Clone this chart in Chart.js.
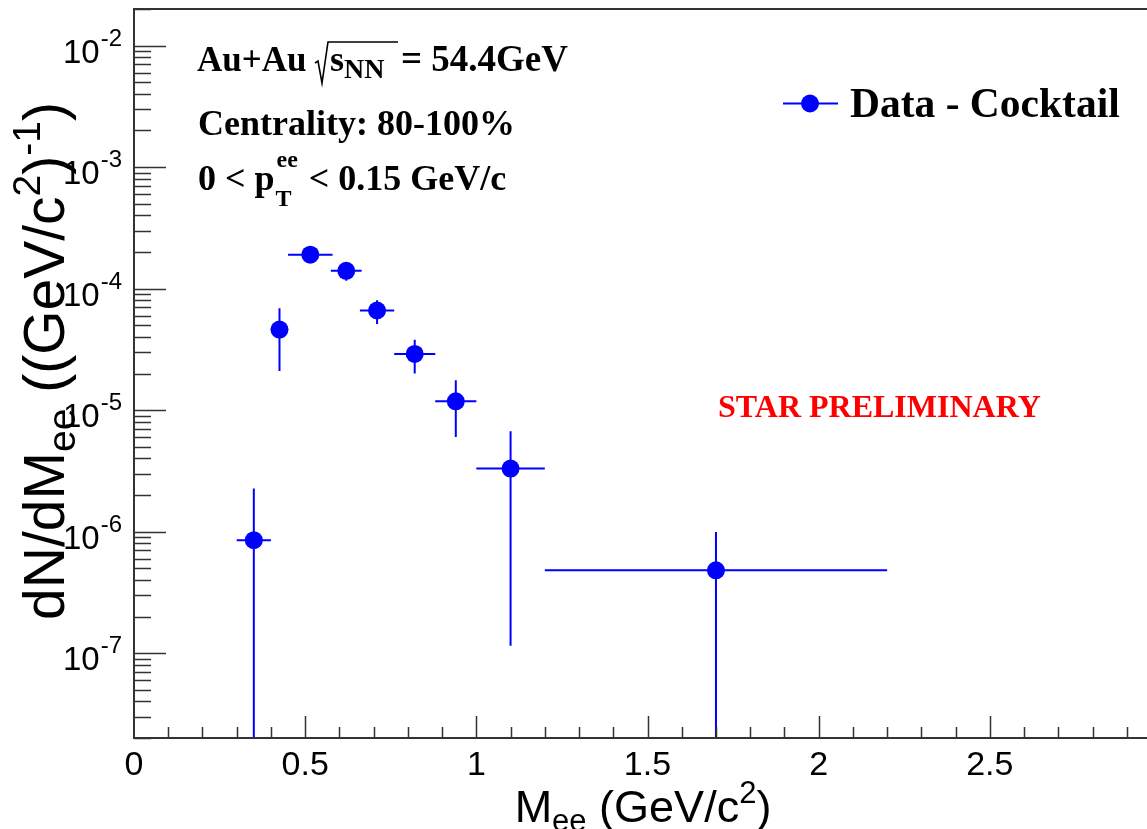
<!DOCTYPE html>
<html>
<head>
<meta charset="utf-8">
<script src="https://cdn.jsdelivr.net/npm/chart.js@4/dist/chart.umd.min.js"></script>
<style>
  html,body{margin:0;padding:0;background:#fff;overflow:hidden;}
  canvas{display:block;}
</style>
</head>
<body>
<canvas id="c" width="1170" height="829"></canvas>
<script>
// Data - Cocktail, Au+Au 54.4 GeV, 80-100%, low pT dielectron excess
const MASS     = [0.35, 0.425, 0.515, 0.62, 0.71, 0.82, 0.94, 1.10, 1.70];
const MASS_LO  = [0.30, 0.40, 0.45, 0.575, 0.66, 0.76, 0.88, 1.00, 1.20];
const MASS_HI  = [0.40, 0.45, 0.58, 0.665, 0.76, 0.88, 1.00, 1.20, 2.20];
const YIELD    = [8.5e-7, 4.6e-5, 1.9e-4, 1.4e-4, 6.6e-5, 2.9e-5, 1.18e-5, 3.3e-6, 4.8e-7];
const YIELD_LO = [1e-9, 2.1e-5, 1.75e-4, 1.16e-4, 5.1e-5, 2.0e-5, 6.0e-6, 1.15e-7, 1e-9];
const YIELD_HI = [2.26e-6, 6.9e-5, 2.05e-4, 1.62e-4, 8.0e-5, 3.8e-5, 1.76e-5, 6.7e-6, 9.9e-7];
const X_TICKS  = [0, 0.5, 1, 1.5, 2, 2.5];
const X_LABELS = ['0', '0.5', '1', '1.5', '2', '2.5'];
const Y_EXPS   = [-7, -6, -5, -4, -3, -2];

const BLUE = '#0000ff', FRAME = '#333333', RED = '#ff0000';
const SANS = "'Liberation Sans', Arial, sans-serif";
const SERIF = "'Liberation Serif', 'Times New Roman', serif";

// draw a row of text pieces (sub/superscripts via dy), returns total width
function runs(ctx, x, y, parts, measureOnly) {
  let cx = x;
  parts.forEach(p => {
    ctx.font = (p.bold ? 'bold ' : '') + p.size + 'px ' + (p.fam || SANS);
    if (!measureOnly) ctx.fillText(p.t, cx + (p.dx || 0), y + (p.dy || 0));
    cx += ctx.measureText(p.t).width + (p.dx || 0);
  });
  return cx - x;
}

const errorBars = {
  id: 'errorBars',
  beforeDatasetsDraw(chart) {
    const {ctx, chartArea: a, scales: {x, y}} = chart;
    ctx.save();
    ctx.beginPath(); ctx.rect(a.left, a.top, a.right - a.left, a.bottom - a.top); ctx.clip();
    ctx.strokeStyle = BLUE; ctx.lineWidth = 2;
    MASS.forEach((m, i) => {
      const px = x.getPixelForValue(m), py = y.getPixelForValue(YIELD[i]);
      ctx.beginPath();
      ctx.moveTo(x.getPixelForValue(MASS_LO[i]), py);
      ctx.lineTo(x.getPixelForValue(MASS_HI[i]), py);
      ctx.moveTo(px, Math.min(y.getPixelForValue(YIELD_LO[i]), a.bottom + 5));
      ctx.lineTo(px, y.getPixelForValue(YIELD_HI[i]));
      ctx.stroke();
    });
    ctx.restore();
  }
};

const decor = {
  id: 'decor',
  afterDraw(chart) {
    const {ctx, chartArea: a, scales: {x, y}} = chart;
    ctx.save();
    // frame
    ctx.strokeStyle = FRAME; ctx.lineWidth = 2;
    ctx.beginPath();
    ctx.moveTo(a.right, a.top); ctx.lineTo(a.left, a.top);
    ctx.lineTo(a.left, a.bottom); ctx.lineTo(a.right, a.bottom);
    ctx.stroke();
    // y ticks (inside)
    ctx.lineWidth = 1.5;
    ctx.beginPath();
    for (let e = -8; e <= -2; e++) {
      for (let k = 1; k <= 9; k++) {
        const v = k * Math.pow(10, e);
        if (v < y.min || v > y.max) continue;
        const py = Math.round(y.getPixelForValue(v)) + 0.5;
        ctx.moveTo(a.left, py); ctx.lineTo(a.left + (k === 1 ? 32 : 17), py);
      }
    }
    // x ticks (inside)
    for (let i = 1; i <= 30; i++) {
      const px = Math.round(x.getPixelForValue(i / 10)) + 0.5;
      ctx.moveTo(px, a.bottom); ctx.lineTo(px, a.bottom - (i % 5 === 0 ? 22 : 11));
    }
    ctx.stroke();

    ctx.fillStyle = '#000';
    // y tick labels 10^e
    ctx.textAlign = 'left'; ctx.textBaseline = 'alphabetic';
    Y_EXPS.forEach(e => {
      const py = y.getPixelForValue(Math.pow(10, e));
      const parts = [{t: '10', size: 33}, {t: String(e), size: 24, dy: -17, dx: 1}];
      const w = runs(ctx, 0, 0, parts, true);
      runs(ctx, 122 - w, py + 17, parts);
    });
    // x tick labels
    ctx.textAlign = 'center';
    ctx.font = '34px ' + SANS;
    X_TICKS.forEach((v, i) => ctx.fillText(X_LABELS[i], x.getPixelForValue(v), 775));
    ctx.textAlign = 'left';

    // x title
    const xt = [{t: 'M', size: 45}, {t: 'ee', size: 31, dy: 9}, {t: ' (GeV/c', size: 45},
                {t: '2', size: 31, dy: -19}, {t: ')', size: 45}];
    const xw = runs(ctx, 0, 0, xt, true);
    runs(ctx, 643 - xw / 2, 822, xt);

    // y title (rotated)
    const yt = [{t: 'dN/dM', size: 57}, {t: 'ee', size: 39, dy: 11}, {t: ' ((GeV/c', size: 57},
                {t: '2', size: 39, dy: -24}, {t: ')', size: 57}, {t: '-1', size: 39, dy: -24},
                {t: ')', size: 57}];
    const yw = runs(ctx, 0, 0, yt, true);
    ctx.save();
    ctx.translate(64, 361); ctx.rotate(-Math.PI / 2);
    runs(ctx, -yw / 2, 0, yt);
    ctx.restore();

    // annotation, top left
    runs(ctx, 197, 71, [{t: 'Au+Au', size: 35, bold: true, fam: SERIF}]);
    ctx.strokeStyle = '#000'; ctx.lineWidth = 1.6;
    ctx.beginPath();
    ctx.moveTo(315, 63); ctx.lineTo(318, 61); ctx.lineTo(322, 83);
    ctx.lineTo(328, 42); ctx.lineTo(398, 42);
    ctx.stroke();
    runs(ctx, 330, 71, [{t: 's', size: 36, bold: true, fam: SERIF},
                        {t: 'NN', size: 28, bold: true, fam: SERIF, dy: 7}]);
    runs(ctx, 401, 71, [{t: '= 54.4GeV', size: 37, bold: true, fam: SERIF}]);
    runs(ctx, 198, 135, [{t: 'Centrality: 80-100%', size: 36, bold: true, fam: SERIF}]);
    let cx = 198 + runs(ctx, 198, 190, [{t: '0 < p', size: 36, bold: true, fam: SERIF}]);
    ctx.font = 'bold 24px ' + SERIF;
    ctx.fillText('ee', cx + 2, 167);
    ctx.fillText('T', cx + 1, 206);
    cx += Math.max(ctx.measureText('ee').width, ctx.measureText('T').width) + 4;
    runs(ctx, cx, 190, [{t: ' < 0.15 GeV/c', size: 36, bold: true, fam: SERIF}]);

    // legend
    ctx.strokeStyle = BLUE; ctx.lineWidth = 2;
    ctx.beginPath(); ctx.moveTo(783, 103.5); ctx.lineTo(838, 103.5); ctx.stroke();
    ctx.fillStyle = BLUE;
    ctx.beginPath(); ctx.arc(810, 103.5, 9, 0, Math.PI * 2); ctx.fill();
    ctx.fillStyle = '#000';
    runs(ctx, 850, 117, [{t: 'Data - Cocktail', size: 41.5, bold: true, fam: SERIF}]);

    // preliminary tag
    ctx.fillStyle = RED;
    runs(ctx, 718, 417, [{t: 'STAR PRELIMINARY', size: 32, bold: true, fam: SERIF}]);
    ctx.restore();
  }
};

new Chart(document.getElementById('c'), {
  type: 'scatter',
  data: {
    datasets: [{
      label: 'Data - Cocktail',
      data: MASS.map((m, i) => ({x: m, y: YIELD[i]})),
      pointRadius: 9, pointHoverRadius: 9,
      pointBackgroundColor: BLUE, pointBorderWidth: 0
    }]
  },
  options: {
    animation: false, responsive: false,
    layout: {padding: {left: 134, top: 8, right: 7, bottom: 91}},
    plugins: {legend: {display: false}, tooltip: {enabled: false}},
    scales: {
      x: {type: 'linear', min: 0, max: 3, display: false},
      y: {type: 'logarithmic', min: 2e-8, max: 2e-2, display: false}
    }
  },
  plugins: [errorBars, decor]
});
</script>
</body>
</html>
